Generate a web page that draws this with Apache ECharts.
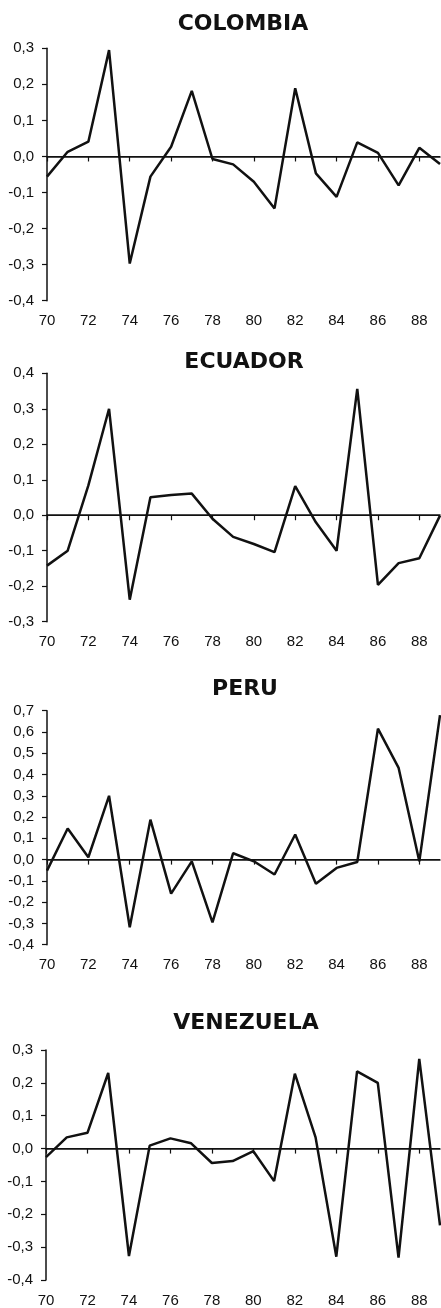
<!DOCTYPE html>
<html>
<head>
<meta charset="utf-8">
<script src="https://cdn.jsdelivr.net/npm/echarts@6/dist/echarts.min.js"></script>
<style>
html,body{margin:0;padding:0;background:#fff;}
#chart{width:441px;height:1308px;}
</style>
</head>
<body>
<div id="chart"></div>
<script>
const years = ['70','71','72','73','74','75','76','77','78','79','80','81','82','83','84','85','86','87','88','89'];
const titles = ['COLOMBIA','ECUADOR','PERU','VENEZUELA'];
const colombia = [-0.056,0.013,0.041,0.295,-0.297,-0.056,0.027,0.182,-0.007,-0.022,-0.070,-0.144,0.189,-0.047,-0.112,0.039,0.010,-0.080,0.024,-0.021];
const ecuador = [-0.142,-0.100,0.084,0.300,-0.238,0.051,0.057,0.061,-0.010,-0.061,-0.081,-0.104,0.082,-0.020,-0.100,0.356,-0.196,-0.135,-0.121,-0.001];
const peru = [-0.052,0.146,0.011,0.300,-0.318,0.188,-0.160,-0.008,-0.295,0.030,-0.008,-0.070,0.118,-0.113,-0.039,-0.011,0.616,0.431,-0.008,0.679];
const venezuela = [-0.026,0.034,0.048,0.230,-0.327,0.009,0.031,0.016,-0.044,-0.038,-0.008,-0.099,0.228,0.034,-0.329,0.235,0.200,-0.332,0.273,-0.234];
const yMins = [-0.4,-0.3,-0.4,-0.4];
const yMaxs = [0.3,0.4,0.7,0.3];

const seriesData = [colombia, ecuador, peru, venezuela];
const grids = [
  {left:47, top:48.3, width:393, height:252.4},
  {left:47, top:373.3, width:393, height:248.4},
  {left:47, top:710.7, width:393, height:234},
  {left:46, top:1050, width:394, height:232.3}
];
const titleCenters = [[243,22],[244,360],[245,687],[246,1021]];

const fmt = v => (Math.abs(v) < 1e-9 ? '0,0' : v.toFixed(1).replace('.', ','));
const labelFont = {color:'#111', fontFamily:'Liberation Sans, Arial, sans-serif', fontSize:15};

const option = {
  animation:false,
  backgroundColor:'#fff',
  title: titles.map((t,i)=>({
    text:t, left:titleCenters[i][0], top:titleCenters[i][1]-9, textAlign:'center', padding:0,
    textStyle:{fontFamily:'DejaVu Sans', fontWeight:'bold', fontSize:22, color:'#111'}
  })),
  grid: grids,
  xAxis: grids.map((g,i)=>({
    type:'category', gridIndex:i, data:years, boundaryGap:false,
    axisLine:{lineStyle:{color:'#111', width:1.5}},
    axisTick:{show:true, interval:1, length:5, lineStyle:{color:'#111', width:1.2}},
    axisLabel:{interval:1, margin:13, ...labelFont},
    splitLine:{show:false}
  })),
  yAxis: grids.map((g,i)=>({
    type:'value', gridIndex:i, min:yMins[i], max:yMaxs[i], interval:0.1,
    axisLine:{show:true, lineStyle:{color:'#111', width:1.5}},
    axisTick:{show:true, length:5, lineStyle:{color:'#111', width:1.2}},
    axisLabel:{margin:13, formatter:fmt, ...labelFont},
    splitLine:{show:false}
  })),
  series: seriesData.map((d,i)=>({
    type:'line', xAxisIndex:i, yAxisIndex:i, data:d, symbol:'none',
    lineStyle:{color:'#111', width:2.5}, z:3,
    markLine:{silent:true, symbol:'none', label:{show:false},
      lineStyle:{color:'#111', width:1.2, type:'solid'}, data:[{yAxis:0}]}
  }))
};
echarts.init(document.getElementById('chart')).setOption(option);
</script>
</body>
</html>
